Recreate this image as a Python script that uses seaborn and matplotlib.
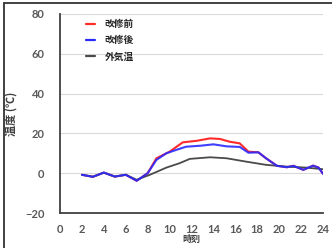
import matplotlib
matplotlib.use("Agg")
import matplotlib.pyplot as plt
import seaborn as sns
import pandas as pd
from matplotlib.lines import Line2D

# ---- data ----
hours_after = [2, 3, 4, 5, 6, 7, 8, 8.8, 9.7, 10.6, 11.5, 12.8, 14, 15.2, 16.4, 17.2, 18.1, 18.8, 19.8, 20.7, 21.3, 22.2, 23.1, 23.6, 24]
temp_after = [-0.8, -1.8, 0.3, -1.7, -0.8, -3.8, 0, 6.7, 10, 11.7, 13.3, 13.8, 14.5, 13.5, 13.2, 10.3, 10.5, 7.5, 3.7, 3, 3.7, 1.7, 3.8, 2.8, -0.3]

hours_before = [2, 3, 4, 5, 6, 7, 8, 8.8, 10, 11.2, 12.5, 13.7, 14.6, 15.5, 16.4, 17.2, 18.1, 18.8, 19.8, 20.7, 21.3, 22.2, 23.1, 23.6, 24]
temp_before = [-0.8, -1.8, 0.3, -1.7, -0.8, -3.8, 0, 7.5, 10.8, 15.5, 16.3, 17.5, 17.2, 15.8, 15, 10.8, 10.5, 7.5, 3.7, 3, 3.7, 1.7, 3.8, 2.8, -0.3]

hours_out = [2, 3, 4, 5, 6, 7, 8.2, 9.7, 10.9, 11.85, 13.7, 15.2, 17, 18.8, 20.7, 22.5, 24]
temp_out = [-0.8, -1.8, 0.3, -1.7, -0.8, -3.3, -0.8, 2.8, 5, 7.2, 8, 7.5, 5.8, 4.2, 3.3, 2.8, 2]

series_names = ["改修前", "改修後", "外気温"]
series_colors = ["#ff2a2a", "#2a2aff", "#4a4a4a"]
x_ticks = list(range(0, 25, 2))
y_ticks = [-20, 0, 20, 40, 60, 80]
x_label = "時刻"
y_label = "温度 (℃)"

sns.set_theme(style="white")
plt.rcParams['font.family'] = ['Noto Sans CJK JP', 'DejaVu Sans']

fig = plt.figure(figsize=(3.32, 2.48), dpi=100)
ax = fig.add_axes([60/332, 1-213/248, 263/332, 199/248])

df_before = pd.DataFrame({"h": hours_before, "t": temp_before})
df_after = pd.DataFrame({"h": hours_after, "t": temp_after})
df_out = pd.DataFrame({"h": hours_out, "t": temp_out})

sns.lineplot(data=df_before, x="h", y="t", ax=ax, color=series_colors[0], lw=1.5, zorder=3)
sns.lineplot(data=df_out, x="h", y="t", ax=ax, color=series_colors[2], lw=1.3, zorder=4)
sns.lineplot(data=df_after, x="h", y="t", ax=ax, color=series_colors[1], lw=1.5, zorder=5, alpha=0.9)

ax.set_xlim(0, 24)
ax.set_ylim(-20, 80)
ax.set_xticks(x_ticks)
ax.set_yticks(y_ticks)
ax.grid(axis="y", color="#d9d9d9", lw=0.8)
ax.grid(axis="x", visible=False)
for s in ["top", "right"]:
    ax.spines[s].set_visible(False)
for s in ["left", "bottom"]:
    ax.spines[s].set_color("#404040")
    ax.spines[s].set_linewidth(1.3)
ax.tick_params(axis="x", length=0, pad=8, labelsize=8, labelcolor="#595959")
ax.tick_params(axis="y", length=0, pad=11, labelsize=8, labelcolor="#595959")
for lab in ax.get_xticklabels() + ax.get_yticklabels():
    lab.set_family("Lato")
    lab.set_fontweight("bold")

ax.set_xlabel(x_label, fontsize=6.5, fontweight="bold", color="#404040", labelpad=0)
ax.set_ylabel(y_label, fontsize=8, fontweight="bold", color="#404040")
ax.yaxis.set_label_coords(-0.163, 0.5)

handles = [Line2D([0], [0], color=c, lw=1.6) for c in series_colors]
leg = ax.legend(handles, series_names, loc="upper left", bbox_to_anchor=(0.10, 0.975),
                frameon=False, borderpad=0, borderaxespad=0, handlelength=0.9,
                handletextpad=1.0, labelspacing=0.65,
                prop={"family": ["Noto Sans CJK JP", "DejaVu Sans"], "weight": "bold", "size": 7})

# frame lines of the screenshot
fig.add_artist(Line2D([4/332, 4/332], [0, 1-3/248], transform=fig.transFigure, color="#333333", lw=1.3))
fig.add_artist(Line2D([4/332, 1], [1-3/248, 1-3/248], transform=fig.transFigure, color="#333333", lw=1.3))

fig.savefig("out.png", dpi=100)
